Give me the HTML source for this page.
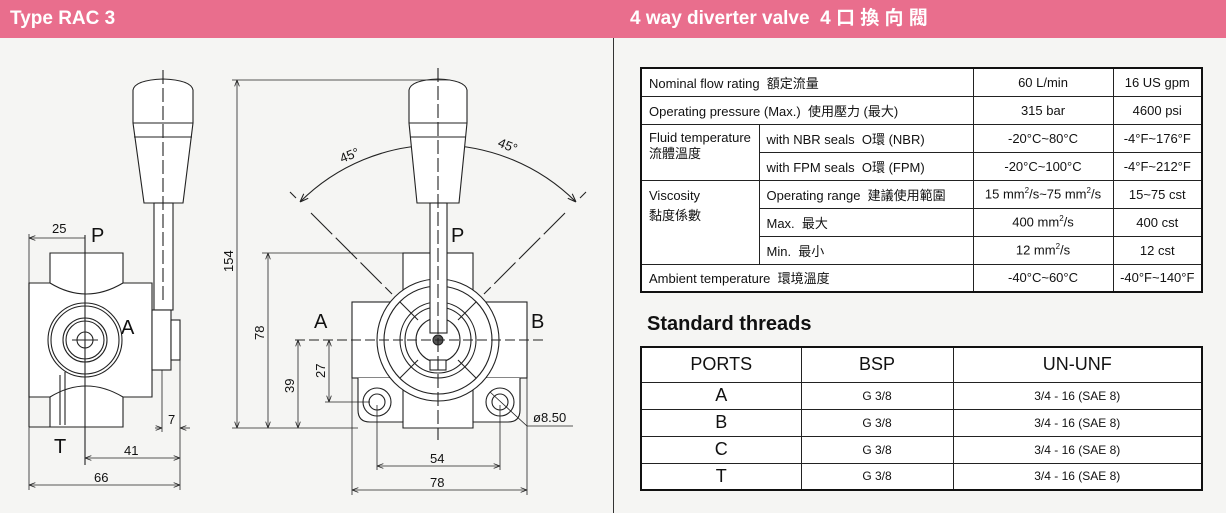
<!DOCTYPE html>
<html><head><meta charset="utf-8"><style>
*{margin:0;padding:0;box-sizing:border-box}
body{width:1226px;height:513px;background:#f5f5f3;position:relative;overflow:hidden;font-family:"Liberation Sans","Noto Sans CJK TC",sans-serif;color:#111}
.hdr{position:absolute;left:0;top:0;width:1226px;height:38px;background:#e96e8d}
.hdr span{position:absolute;top:0;height:38px;line-height:38px;color:#fff;font-weight:bold;font-size:19px;white-space:nowrap}
.div{position:absolute;left:613px;top:38px;width:1px;height:475px;background:#333}
table{position:absolute;border-collapse:collapse;background:#fff;border:2px solid #111}
td{border:1px solid #222;font-size:13px;padding:0 7px;white-space:nowrap}
#t1{left:640px;top:67px;width:563px}
#t1 td{height:28px}
#t1 .c{text-align:center;padding:0 2px}
#t2{left:640px;top:346px;width:563px}
#t2 td{text-align:center;height:27px;font-size:12px}
#t2 tr:first-child td{height:35px;font-size:18px}
#t2 td.p{font-size:18px}
.st{position:absolute;left:647px;top:313px;font-weight:bold;font-size:20px}
sup{font-size:8px}
</style></head><body>
<div class="hdr"><span style="left:10px">Type RAC 3</span><span style="left:630px">4 way diverter valve&nbsp; 4 口 換 向 閥</span></div>
<div class="div"></div>

<svg width="613" height="513" style="position:absolute;left:0;top:0" xmlns="http://www.w3.org/2000/svg" font-family="Liberation Sans, sans-serif">
<defs><marker id="ar" markerWidth="8" markerHeight="6" refX="8" refY="3" orient="auto-start-reverse"><path d="M0,0 L8,3 L0,6" fill="none" stroke="#222" stroke-width="1"/></marker></defs>
<g fill="none" stroke="#222" stroke-width="1.1">
<path d="M133,90 Q135,80 163,79 Q191,80 193,90 L193,123 L183,203 L144,203 L133,123 Z" fill="#fff"/>
<line x1="133" y1="123" x2="193" y2="123"/><line x1="134" y1="137" x2="192" y2="137"/>
<rect x="154" y="203" width="19" height="107" fill="#fff"/>
<path d="M50,253 L123,253 L123,283 L152,283 L152,397 L123,397 L123,427 L50,427 L50,397 L29,397 L29,283 L50,283 Z" fill="#fff"/>
<path d="M50,283 Q86,305 123,283"/><path d="M50,397 Q86,375 123,397"/>
<line x1="29" y1="283" x2="29" y2="427"/><line x1="29" y1="427" x2="50" y2="427"/>
<rect x="152" y="310" width="19" height="60" fill="#fff"/>
<rect x="171" y="320" width="9" height="40" fill="#fff"/>
<circle cx="85" cy="340" r="37"/><circle cx="85" cy="340" r="34"/>
<circle cx="85" cy="340" r="22"/><circle cx="85" cy="340" r="19"/><circle cx="85" cy="340" r="8"/>
<line x1="60" y1="375" x2="60" y2="425"/><line x1="65" y1="372" x2="65" y2="425"/>
<line x1="163" y1="70" x2="163" y2="300" stroke-dasharray="14,4"/>
<line x1="85" y1="235" x2="85" y2="465"/>
<line x1="72" y1="340" x2="98" y2="340"/>
<line x1="29" y1="234" x2="29" y2="490" stroke-width="0.8"/>
<line x1="180" y1="360" x2="180" y2="490" stroke-width="0.8"/>
<line x1="162" y1="370" x2="162" y2="432" stroke-width="0.8"/>
<line x1="29" y1="238" x2="85" y2="238" marker-start="url(#ar)" stroke-width="0.8"/>
<line x1="155" y1="428" x2="162" y2="428" marker-end="url(#ar)" stroke-width="0.8"/>
<line x1="190" y1="428" x2="180" y2="428" marker-end="url(#ar)" stroke-width="0.8"/>
<line x1="85" y1="458" x2="180" y2="458" marker-start="url(#ar)" marker-end="url(#ar)" stroke-width="0.8"/>
<line x1="29" y1="485" x2="180" y2="485" marker-start="url(#ar)" marker-end="url(#ar)" stroke-width="0.8"/>

<path d="M300,202 A195,195 0 0 1 438,145" marker-start="url(#ar)"/>
<path d="M576,202 A195,195 0 0 0 438,145" marker-start="url(#ar)"/>
<line x1="290" y1="192" x2="296" y2="198"/><line x1="586" y1="192" x2="580" y2="198"/>
<line x1="311" y1="213" x2="392" y2="294" stroke-dasharray="30,5"/>
<line x1="565" y1="213" x2="484" y2="294" stroke-dasharray="30,5"/>
<rect x="403" y="253" width="70" height="50" fill="#fff"/>
<rect x="352" y="302" width="175" height="76" fill="#fff"/>
<path d="M358,378 L358,410 Q358,422 370,422 L403,422 L403,428 L473,428 L473,422 L508,422 Q520,422 520,410 L520,378" fill="#fff"/>
<line x1="403" y1="378" x2="403" y2="422"/><line x1="473" y1="378" x2="473" y2="422"/>
<circle cx="377" cy="402" r="14" fill="#fff"/><circle cx="377" cy="402" r="8"/>
<circle cx="500" cy="402" r="14" fill="#fff"/><circle cx="500" cy="402" r="8"/>
<circle cx="438" cy="340" r="61" fill="#fff"/><circle cx="438" cy="340" r="54"/>
<circle cx="438" cy="340" r="38"/><circle cx="438" cy="340" r="33"/>
<circle cx="438" cy="340" r="22"/><circle cx="438" cy="340" r="5" fill="#555"/>
<line x1="400" y1="302" x2="418" y2="320"/><line x1="476" y1="302" x2="458" y2="320"/>
<line x1="400" y1="378" x2="418" y2="360"/><line x1="476" y1="378" x2="458" y2="360"/>
<path d="M409,90 Q411,80 438,79 Q465,80 467,90 L467,123 L459,203 L417,203 L409,123 Z" fill="#fff"/>
<line x1="409" y1="123" x2="467" y2="123"/><line x1="410" y1="137" x2="466" y2="137"/>
<rect x="430" y="203" width="17" height="130" fill="#fff"/>
<rect x="430" y="360" width="16" height="10" fill="#fff"/>
<line x1="438" y1="68" x2="438" y2="440" stroke-dasharray="14,4"/>
<line x1="295" y1="340" x2="545" y2="340" stroke-dasharray="10,4"/>
<line x1="232" y1="80" x2="450" y2="80" stroke-width="0.8"/>
<line x1="232" y1="428" x2="358" y2="428" stroke-width="0.8"/>
<line x1="262" y1="253" x2="403" y2="253" stroke-width="0.8"/>
<line x1="325" y1="402" x2="370" y2="402" stroke-width="0.8"/>
<line x1="352" y1="378" x2="352" y2="495" stroke-width="0.8"/>
<line x1="527" y1="378" x2="527" y2="495" stroke-width="0.8"/>
<line x1="377" y1="405" x2="377" y2="470" stroke-width="0.8"/>
<line x1="500" y1="405" x2="500" y2="470" stroke-width="0.8"/>
<line x1="237" y1="80" x2="237" y2="428" marker-start="url(#ar)" marker-end="url(#ar)" stroke-width="0.8"/>
<line x1="268" y1="253" x2="268" y2="428" marker-start="url(#ar)" marker-end="url(#ar)" stroke-width="0.8"/>
<line x1="298" y1="340" x2="298" y2="428" marker-start="url(#ar)" marker-end="url(#ar)" stroke-width="0.8"/>
<line x1="329" y1="340" x2="329" y2="402" marker-start="url(#ar)" marker-end="url(#ar)" stroke-width="0.8"/>
<line x1="377" y1="466" x2="500" y2="466" marker-start="url(#ar)" marker-end="url(#ar)" stroke-width="0.8"/>
<line x1="352" y1="490" x2="527" y2="490" marker-start="url(#ar)" marker-end="url(#ar)" stroke-width="0.8"/>
<polyline points="490,392 527,426 573,426" stroke-width="0.8"/>
</g>
<g fill="#111" font-size="13">
<text x="91" y="242" font-size="20">P</text>
<text x="52" y="233">25</text>
<text x="121" y="334" font-size="20">A</text>
<text x="54" y="453" font-size="20">T</text>
<text x="124" y="455">41</text>
<text x="94" y="482">66</text>
<text x="168" y="424">7</text>
<text x="451" y="242" font-size="20">P</text>
<text x="314" y="328" font-size="20">A</text>
<text x="531" y="328" font-size="20">B</text>
<text x="430" y="463">54</text>
<text x="430" y="487">78</text>
<text x="533" y="422">ø8.50</text>
<text transform="translate(233,272) rotate(-90)">154</text>
<text transform="translate(264,340) rotate(-90)">78</text>
<text transform="translate(294,393) rotate(-90)">39</text>
<text transform="translate(325,378) rotate(-90)">27</text>
<text transform="translate(342,163) rotate(-22)">45°</text>
<text transform="translate(497,146) rotate(22)">45°</text>
</g>
</svg>

<table id="t1">
<tr><td colspan="2">Nominal flow rating&nbsp; 額定流量</td><td class="c" style="width:140px">60 L/min</td><td class="c" style="width:89px">16 US gpm</td></tr>
<tr><td colspan="2">Operating pressure (Max.)&nbsp; 使用壓力 (最大)</td><td class="c">315 bar</td><td class="c">4600 psi</td></tr>
<tr><td rowspan="2" style="vertical-align:top;padding-top:5px;line-height:16px;width:118px">Fluid temperature<br>流體溫度</td><td>with NBR seals&nbsp; O環 (NBR)</td><td class="c">-20°C~80°C</td><td class="c">-4°F~176°F</td></tr>
<tr><td>with FPM seals&nbsp; O環 (FPM)</td><td class="c">-20°C~100°C</td><td class="c">-4°F~212°F</td></tr>
<tr><td rowspan="3" style="vertical-align:top;padding-top:5px;line-height:20px">Viscosity<br>黏度係數</td><td>Operating range&nbsp; 建議使用範圍</td><td class="c">15 mm<sup>2</sup>/s~75 mm<sup>2</sup>/s</td><td class="c">15~75 cst</td></tr>
<tr><td>Max.&nbsp; 最大</td><td class="c">400 mm<sup>2</sup>/s</td><td class="c">400 cst</td></tr>
<tr><td>Min.&nbsp; 最小</td><td class="c">12 mm<sup>2</sup>/s</td><td class="c">12 cst</td></tr>
<tr><td colspan="2">Ambient temperature&nbsp; 環境溫度</td><td class="c">-40°C~60°C</td><td class="c">-40°F~140°F</td></tr>
</table>

<div class="st">Standard threads</div>
<table id="t2">
<tr><td style="width:160px">PORTS</td><td style="width:152px">BSP</td><td>UN-UNF</td></tr>
<tr><td class="p">A</td><td>G 3/8</td><td>3/4 - 16 (SAE 8)</td></tr>
<tr><td class="p">B</td><td>G 3/8</td><td>3/4 - 16 (SAE 8)</td></tr>
<tr><td class="p">C</td><td>G 3/8</td><td>3/4 - 16 (SAE 8)</td></tr>
<tr><td class="p">T</td><td>G 3/8</td><td>3/4 - 16 (SAE 8)</td></tr>
</table>
</body></html>
